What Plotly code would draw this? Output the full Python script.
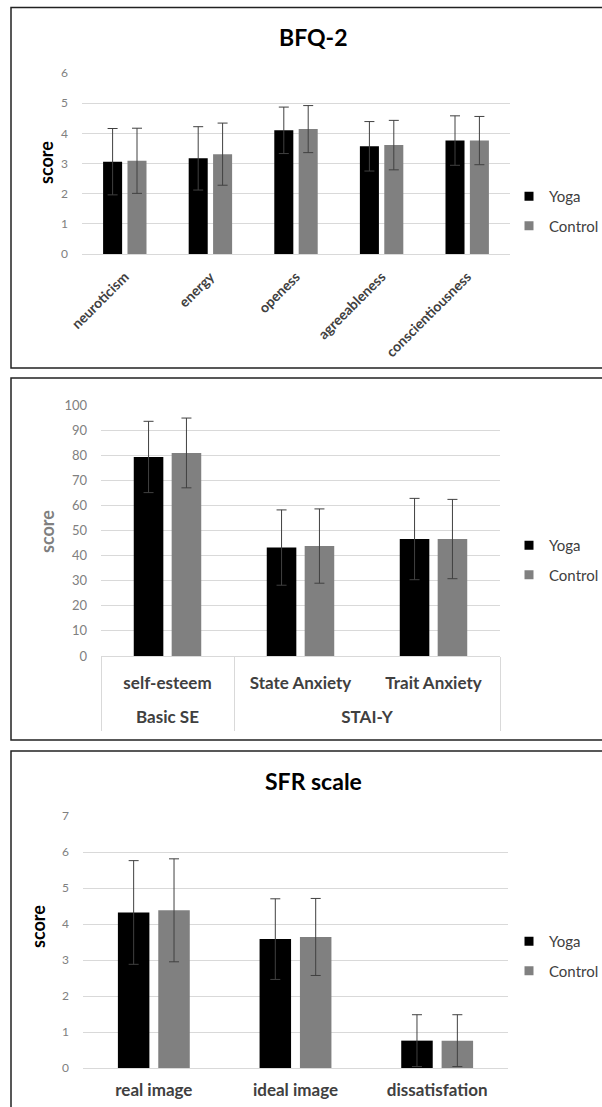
import plotly.graph_objects as go

# ---------------- data ----------------
bfq_categories = ["neuroticism", "energy", "openess", "agreeableness", "conscientiousness"]
bfq_yoga = [3.06, 3.17, 4.10, 3.57, 3.76]
bfq_yoga_sd = [1.10, 1.05, 0.77, 0.82, 0.82]
bfq_control = [3.09, 3.31, 4.14, 3.61, 3.76]
bfq_control_sd = [1.08, 1.03, 0.78, 0.82, 0.80]

se_groups = ["Basic SE", "STAI-Y", "STAI-Y"]
se_categories = ["self-esteem", "State Anxiety", "Trait Anxiety"]
se_yoga = [79.3, 43.2, 46.6]
se_yoga_sd = [14.2, 15.0, 16.2]
se_control = [80.9, 43.8, 46.6]
se_control_sd = [13.9, 14.8, 15.8]

sfr_categories = ["real image", "ideal image", "dissatisfation"]
sfr_yoga = [4.32, 3.58, 0.76]
sfr_yoga_sd = [1.44, 1.12, 0.72]
sfr_control = [4.38, 3.64, 0.76]
sfr_control_sd = [1.43, 1.07, 0.72]

series_names = ["Yoga", "Control"]
series_colors = ["#000000", "#808080"]

W, H = 602, 1107
def px(x):
    return x / W
def py(y):
    return 1 - y / H

FONT = "Lato"
fig = go.Figure()

panels = [
    ("x", "y", bfq_categories, [bfq_yoga, bfq_control], [bfq_yoga_sd, bfq_control_sd], "legend"),
    ("x2", "y2", se_categories, [se_yoga, se_control], [se_yoga_sd, se_control_sd], "legend2"),
    ("x3", "y3", sfr_categories, [sfr_yoga, sfr_control], [sfr_yoga_sd, sfr_control_sd], "legend3"),
]

for i, (xa, ya, cats, vals, sds, leg) in enumerate(panels):
    for name, color, v, sd in zip(series_names, series_colors, vals, sds):
        fig.add_trace(go.Bar(
            x=cats, y=v, name=name, marker=dict(color=color, line=dict(width=0)),
            error_y=dict(type="data", array=sd, color="#404040", thickness=1, width=5),
            xaxis=xa, yaxis=ya, showlegend=False, hoverinfo="skip",
        ))
    for name, color in zip(series_names, series_colors):
        fig.add_trace(go.Scatter(
            x=[None], y=[None], mode="markers", name=name,
            marker=dict(symbol="square", size=9, color=color),
            legend=leg, legendgroup=f"{leg}_{name}", showlegend=True,
            xaxis="x4", yaxis="y2",
        ))

# outer grouping level of panel 2 (derived from se_groups)
group_names, group_centers, group_edges = [], [], [-0.5]
start = 0
for k in range(1, len(se_groups) + 1):
    if k == len(se_groups) or se_groups[k] != se_groups[start]:
        group_names.append(se_groups[start])
        group_centers.append((start + k - 1) / 2)
        group_edges.append(k - 0.5)
        start = k

grid = "#d9d9d9"
tickgrey = "#808080"
labcol = "#404040"

def yax(domain, rng, dtick, fs):
    return dict(domain=domain, range=rng, dtick=dtick, showgrid=True, gridcolor=grid,
                gridwidth=1, zeroline=True, zerolinecolor=grid, zerolinewidth=1,
                showline=False, ticks="", tickfont=dict(family=FONT, size=fs, color=tickgrey),
                ticklabelstandoff=13, fixedrange=True)

leg_common = dict(xanchor="left", yanchor="top", font=dict(family=FONT, size=15, color=labcol),
                  tracegroupgap=7, bgcolor="rgba(0,0,0,0)", borderwidth=0)

catrange = [-0.5, len(se_categories) - 0.5]

fig.update_layout(
    autosize=True, margin=dict(l=0, r=0, t=0, b=0, autoexpand=False),
    paper_bgcolor="white", plot_bgcolor="white",
    barmode="group", bargap=0.43, bargroupgap=0.22,
    font=dict(family=FONT, color=labcol),
    xaxis=dict(domain=[px(82), px(510)], anchor="y", type="category", tickangle=-45,
               showgrid=False, showline=False, ticks="", fixedrange=True, ticklabelstandoff=11,
               tickfont=dict(family=FONT, size=14, color=labcol, weight="bold")),
    yaxis=dict(anchor="x", **yax([py(254), py(73)], [0, 6], 1, 12)),
    xaxis2=dict(domain=[px(101), px(500)], anchor="y2", type="category", range=catrange,
                showgrid=False, showline=False, ticks="", fixedrange=True, ticklabelstandoff=15,
                tickfont=dict(family=FONT, size=17, color=labcol, weight="bold")),
    xaxis4=dict(overlaying="x2", anchor="y2", side="bottom", type="linear", range=catrange,
                tickmode="array", tickvals=group_centers, ticktext=group_names,
                showgrid=False, zeroline=False, showline=False, ticks="", fixedrange=True,
                ticklabelstandoff=49,
                tickfont=dict(family=FONT, size=17, color=labcol, weight="bold"),
                minor=dict(tickmode="array", tickvals=group_edges, ticks="outside", ticklen=74,
                           tickcolor=grid, tickwidth=1, showgrid=False)),
    yaxis2=dict(anchor="x2", **yax([py(656), py(405)], [0, 100], 10, 13)),
    xaxis3=dict(domain=[px(83), px(508)], anchor="y3", type="category",
                showgrid=False, showline=False, ticks="", fixedrange=True, ticklabelstandoff=10,
                tickfont=dict(family=FONT, size=17, color=labcol, weight="bold")),
    yaxis3=dict(anchor="x3", **yax([py(1068), py(816)], [0, 7], 1, 12)),
    legend=dict(x=px(509), y=py(180), **leg_common),
    legend2=dict(x=px(509), y=py(529), **leg_common),
    legend3=dict(x=px(509), y=py(925), **leg_common),
)

# titles and axis titles
for txt, yy in [("BFQ-2", 37), ("SFR scale", 781)]:
    fig.add_annotation(text=txt, x=px(313), y=py(yy), xref="paper", yref="paper", showarrow=False,
                       xanchor="center", yanchor="middle",
                       font=dict(family=FONT, size=23, color="#000000", weight="bold"))
for (xx, yy, col) in [(46, 163, "#000000"), (47, 532, "#7f7f7f"), (38, 927, "#000000")]:
    fig.add_annotation(text="score", x=px(xx), y=py(yy), xref="paper", yref="paper", showarrow=False,
                       xanchor="center", yanchor="middle",
                       textangle=-90, font=dict(family=FONT, size=18, color=col, weight="bold"))

# panel frames
for (y0, y1) in [(7.5, 368), (378, 740), (751, 1125)]:
    fig.add_shape(type="rect", xref="paper", yref="paper", x0=px(11), x1=1.05, y0=py(y1), y1=py(y0),
                  line=dict(color="#222222", width=1.5), fillcolor="rgba(0,0,0,0)", layer="above")

fig.write_html("out.html", default_width="100vw", default_height="100vh",
               config={"displayModeBar": False, "staticPlot": True, "responsive": True},
               post_script="document.documentElement.style.margin='0px';"
                           "document.body.style.margin='0px';"
                           "document.documentElement.style.overflow='hidden';"
                           "document.body.style.overflow='hidden';"
                           "Plotly.Plots.resize(document.getElementById('{plot_id}'));")
